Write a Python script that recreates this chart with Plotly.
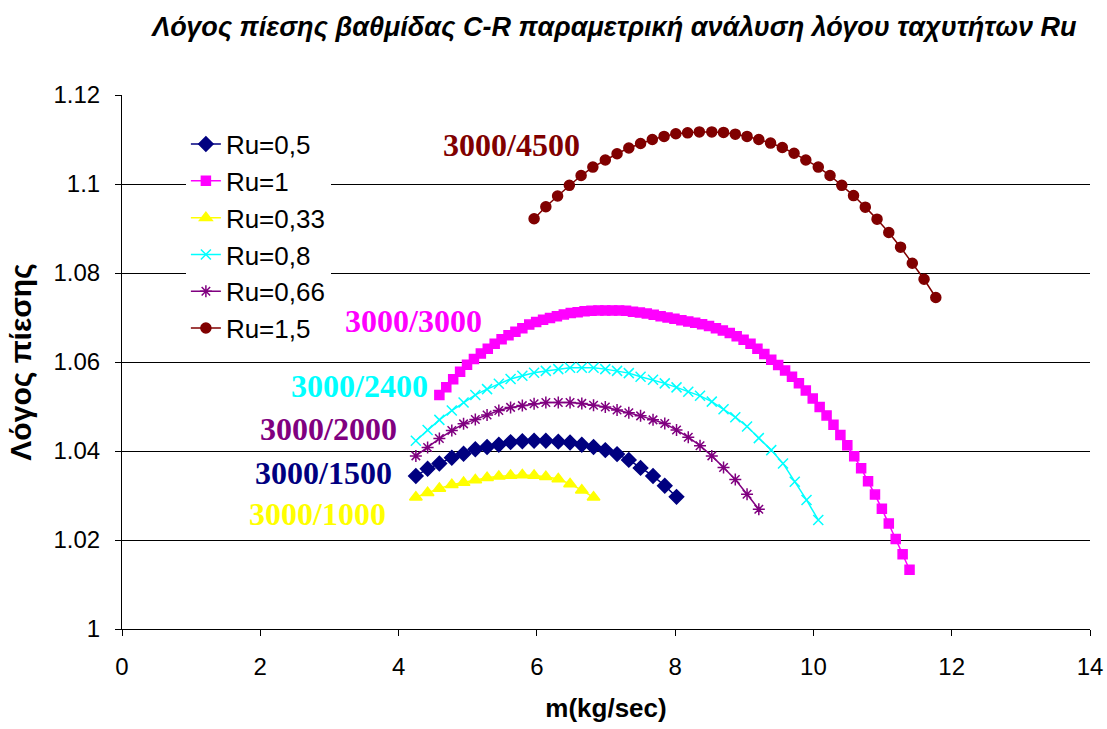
import plotly.graph_objects as go

# Mass flow (kg/sec) and stage pressure ratio for each speed ratio Ru
m_ru05 = [4.25, 4.42, 4.59, 4.77, 4.94, 5.11, 5.28, 5.45, 5.62, 5.79, 5.96, 6.13,
          6.31, 6.48, 6.65, 6.82, 6.99, 7.16, 7.33, 7.50, 7.68, 7.85, 8.02]
pr_ru05 = [1.0344, 1.0360, 1.0372, 1.0385, 1.0394, 1.0404, 1.0409, 1.0414, 1.0420,
           1.0422, 1.0423, 1.0423, 1.0421, 1.0419, 1.0414, 1.0409, 1.0402, 1.0393,
           1.0380, 1.0362, 1.0344, 1.0322, 1.0297]

m_ru1 = [4.59, 4.69, 4.79, 4.89, 4.99, 5.09, 5.19, 5.29, 5.39, 5.49, 5.59, 5.69,
         5.79, 5.89, 5.99, 6.09, 6.19, 6.29, 6.39, 6.49, 6.59, 6.69, 6.79, 6.89,
         6.99, 7.09, 7.19, 7.29, 7.39, 7.49, 7.59, 7.69, 7.79, 7.89, 7.99, 8.09,
         8.19, 8.29, 8.39, 8.49, 8.59, 8.69, 8.79, 8.89, 8.99, 9.09, 9.19, 9.29,
         9.39, 9.49, 9.59, 9.69, 9.79, 9.89, 9.99, 10.09, 10.19, 10.29, 10.39,
         10.49, 10.59, 10.69, 10.79, 10.89, 10.99, 11.09, 11.19, 11.29, 11.39]
pr_ru1 = [1.0526, 1.0543, 1.0561, 1.0578, 1.0594, 1.0607, 1.0619, 1.0630, 1.0641,
          1.0651, 1.0660, 1.0668, 1.0676, 1.0684, 1.0690, 1.0695, 1.0699, 1.0703,
          1.0707, 1.0710, 1.0712, 1.0714, 1.0715, 1.0716, 1.0716, 1.0716, 1.0716,
          1.0715, 1.0713, 1.0711, 1.0709, 1.0706, 1.0703, 1.0700, 1.0697, 1.0694,
          1.0691, 1.0688, 1.0685, 1.0681, 1.0676, 1.0671, 1.0665, 1.0658, 1.0650,
          1.0641, 1.0630, 1.0618, 1.0605, 1.0593, 1.0581, 1.0567, 1.0552, 1.0536,
          1.0518, 1.0499, 1.0480, 1.0459, 1.0436, 1.0413, 1.0388, 1.0361, 1.0332,
          1.0302, 1.0270, 1.0237, 1.0202, 1.0168, 1.0133]

m_ru033 = [4.25, 4.42, 4.59, 4.77, 4.94, 5.11, 5.28, 5.45, 5.62, 5.79, 5.96, 6.13,
           6.31, 6.48, 6.65, 6.82]
pr_ru033 = [1.0296, 1.0306, 1.0316, 1.0324, 1.0329, 1.0335, 1.0340, 1.0343, 1.0345,
            1.0346, 1.0345, 1.0342, 1.0337, 1.0326, 1.0312, 1.0296]

m_ru08 = [4.25, 4.42, 4.59, 4.77, 4.94, 5.11, 5.28, 5.45, 5.62, 5.79, 5.96, 6.13,
          6.31, 6.48, 6.65, 6.82, 6.99, 7.16, 7.33, 7.50, 7.68, 7.85, 8.02, 8.19,
          8.36, 8.53, 8.70, 8.87, 9.04, 9.21, 9.39, 9.56, 9.73, 9.90, 10.07]
pr_ru08 = [1.0423, 1.0447, 1.0470, 1.0491, 1.0509, 1.0526, 1.0539, 1.0551, 1.0562,
           1.0569, 1.0576, 1.0580, 1.0584, 1.0587, 1.0587, 1.0587, 1.0584, 1.0580,
           1.0575, 1.0567, 1.0560, 1.0552, 1.0543, 1.0533, 1.0524, 1.0511, 1.0494,
           1.0476, 1.0455, 1.0429, 1.0402, 1.0372, 1.0331, 1.0290, 1.0245]

m_ru066 = [4.25, 4.42, 4.59, 4.77, 4.94, 5.11, 5.28, 5.45, 5.62, 5.79, 5.96, 6.13,
           6.31, 6.48, 6.65, 6.82, 6.99, 7.16, 7.33, 7.50, 7.68, 7.85, 8.02, 8.19,
           8.36, 8.53, 8.70, 8.87, 9.04, 9.21]
pr_ru066 = [1.0389, 1.0408, 1.0428, 1.0446, 1.0461, 1.0471, 1.0481, 1.0491, 1.0498,
            1.0502, 1.0506, 1.0509, 1.0509, 1.0509, 1.0507, 1.0503, 1.0499, 1.0492,
            1.0486, 1.0479, 1.0470, 1.0462, 1.0447, 1.0431, 1.0412, 1.0389, 1.0363,
            1.0336, 1.0303, 1.0269]

m_ru15 = [5.96, 6.13, 6.30, 6.47, 6.64, 6.81, 6.99, 7.16, 7.33, 7.50, 7.67, 7.84,
          8.01, 8.18, 8.35, 8.53, 8.70, 8.87, 9.04, 9.21, 9.38, 9.55, 9.72, 9.89,
          10.07, 10.24, 10.41, 10.58, 10.75, 10.92, 11.09, 11.26, 11.43, 11.60, 11.77]
pr_ru15 = [1.0922, 1.0949, 1.0973, 1.0997, 1.1019, 1.1038, 1.1054, 1.1068, 1.1081,
           1.1091, 1.1100, 1.1107, 1.1113, 1.1115, 1.1117, 1.1117, 1.1116, 1.1112,
           1.1107, 1.1100, 1.1092, 1.1082, 1.1069, 1.1054, 1.1038, 1.1019, 1.0997,
           1.0974, 1.0948, 1.0921, 1.0891, 1.0858, 1.0822, 1.0786, 1.0745]

series = [
    ("Ru=0,5", m_ru05, pr_ru05, "#000080", "diamond", 11),
    ("Ru=1", m_ru1, pr_ru1, "#FF00FF", "square", 9),
    ("Ru=0,33", m_ru033, pr_ru033, "#FFFF00", "triangle-up", 11),
    ("Ru=0,8", m_ru08, pr_ru08, "#00FFFF", "x-thin-open", 10),
    ("Ru=0,66", m_ru066, pr_ru066, "#800080", "asterisk-open", 10),
    ("Ru=1,5", m_ru15, pr_ru15, "#800000", "circle", 10),
]

# Speed labels written next to each curve
curve_labels = ["3000/4500", "3000/3000", "3000/2400", "3000/2000", "3000/1500", "3000/1000"]
label_colors = ["#800000", "#FF00FF", "#00FFFF", "#800080", "#000080", "#FFFF00"]
label_m = [5.63, 4.22, 3.44, 2.98, 2.91, 2.83]
label_pr = [1.1088, 1.0692, 1.0546, 1.0449, 1.0351, 1.0258]

fig = go.Figure()
for name, xs, ys, color, symbol, size in series:
    fig.add_trace(go.Scatter(
        x=xs, y=ys, name=name, mode="lines+markers",
        line=dict(color=color, width=1.5),
        marker=dict(symbol=symbol, size=size, color=color,
                    line=dict(color=color, width=1.5)),
    ))

for txt, col, mx, py in zip(curve_labels, label_colors, label_m, label_pr):
    fig.add_annotation(
        x=mx, y=py, xref="x", yref="y", text="<b>" + txt + "</b>", showarrow=False,
        font=dict(family="Liberation Serif", size=32, color=col),
    )

fig.update_layout(
    width=1107, height=729,
    margin=dict(l=122, r=17, t=95, b=100, autoexpand=False),
    paper_bgcolor="white", plot_bgcolor="white",
    title=dict(
        text="<b><i>Λόγος πίεσης βαθμίδας C-R παραμετρική ανάλυση λόγου ταχυτήτων Ru</i></b>",
        x=0.555, xanchor="center", y=0.963, yanchor="middle",
        font=dict(family="Liberation Sans", size=27, color="black"),
    ),
    font=dict(family="Liberation Sans", color="black"),
    showlegend=True,
    legend=dict(
        x=0.066, y=0.952, xanchor="left", yanchor="top",
        bgcolor="white", borderwidth=0,
        font=dict(family="Liberation Sans", size=26, color="black"),
        tracegroupgap=0,
    ),
)

fig.update_xaxes(
    range=[0, 14], dtick=2, tick0=0,
    showgrid=False, zeroline=False, automargin=False,
    showline=True, linecolor="black", linewidth=1,
    ticks="outside", ticklen=6, tickcolor="black",
    ticklabelstandoff=10,
    tickfont=dict(family="Liberation Sans", size=24, color="black"),
    title=dict(text="<b>m(kg/sec)</b>", font=dict(family="Liberation Sans", size=26, color="black"), standoff=20),
)
fig.update_yaxes(
    range=[1, 1.12], dtick=0.02, tick0=1,
    tickvals=[1, 1.02, 1.04, 1.06, 1.08, 1.1, 1.12],
    ticktext=["1", "1.02", "1.04", "1.06", "1.08", "1.1", "1.12"],
    showgrid=True, gridcolor="black", gridwidth=1,
    zeroline=False, automargin=False,
    showline=True, linecolor="black", linewidth=1,
    ticks="outside", ticklen=6, tickcolor="black",
    ticklabelstandoff=10,
    tickfont=dict(family="Liberation Sans", size=24, color="black"),
    title=dict(text="<b>Λόγος πίεσης</b>", font=dict(family="Liberation Sans", size=30, color="black"), standoff=12),
)

fig.write_html("out.html")
